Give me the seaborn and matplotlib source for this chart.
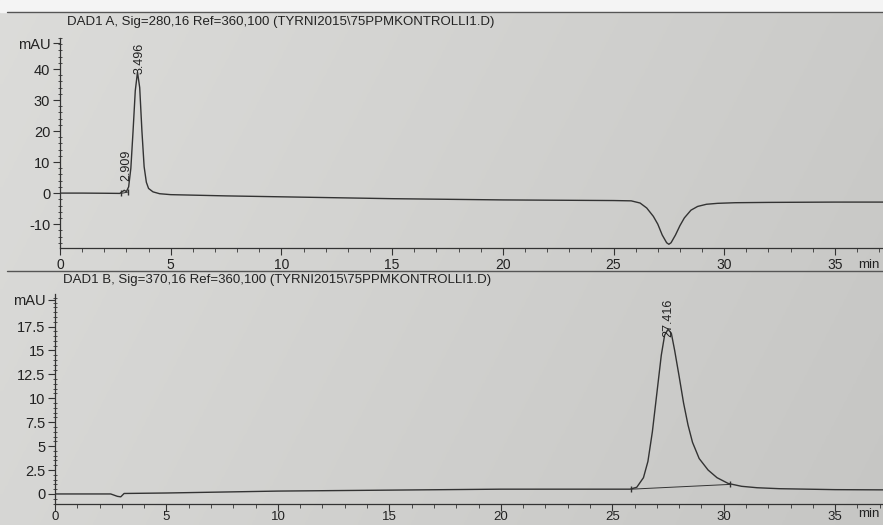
import numpy as np
import pandas as pd
import seaborn as sns
import matplotlib.pyplot as plt
from matplotlib.lines import Line2D
from matplotlib.patches import Rectangle
from matplotlib.ticker import MultipleLocator

# ---- data ----
title_a = "DAD1 A, Sig=280,16 Ref=360,100 (TYRNI2015\\75PPMKONTROLLI1.D)"
title_b = "DAD1 B, Sig=370,16 Ref=360,100 (TYRNI2015\\75PPMKONTROLLI1.D)"

time_a = [0.0, 1.0, 2.0, 2.7, 2.8, 2.9, 3.0, 3.1, 3.2, 3.3, 3.4, 3.5, 3.6, 3.7,
          3.8, 3.9, 4.0, 4.2, 4.5, 5.0, 7.5, 10.0, 12.5, 15.0, 17.5, 20.0,
          22.5, 25.0, 25.8, 26.2, 26.5, 26.8, 27.0, 27.2, 27.4, 27.5, 27.6,
          27.8, 28.0, 28.2, 28.5, 28.8, 29.2, 29.7, 30.5, 32.0, 35.0, 40.0]
signal_a = [0.0, 0.0, -0.05, -0.1, 0.4, 0.9, 0.5, 2.0, 8.0, 20.0, 33.0, 39.0,
            34.0, 20.0, 8.5, 3.5, 1.5, 0.4, -0.2, -0.5, -0.9, -1.2, -1.5, -1.8,
            -2.0, -2.2, -2.3, -2.4, -2.5, -3.2, -4.8, -7.5, -10.0, -13.5, -16.0,
            -16.5, -16.0, -13.5, -10.5, -8.0, -5.5, -4.3, -3.6, -3.3, -3.1,
            -3.0, -2.9, -2.9]

time_b = [0.0, 2.5, 2.8, 2.95, 3.1, 5.0, 7.5, 10.0, 12.5, 15.0, 17.5, 20.0,
          22.5, 25.0, 25.8, 26.1, 26.4, 26.6, 26.8, 27.0, 27.2, 27.35, 27.5,
          27.65, 27.8, 28.0, 28.2, 28.4, 28.6, 28.9, 29.3, 29.7, 30.2, 30.8,
          31.5, 32.5, 35.0, 40.0]
signal_b = [0.0, 0.0, -0.25, -0.3, 0.05, 0.1, 0.2, 0.3, 0.35, 0.4, 0.45, 0.5,
            0.5, 0.5, 0.5, 0.7, 1.7, 3.4, 6.5, 10.5, 14.5, 16.6, 17.2, 16.8,
            15.0, 12.3, 9.5, 7.2, 5.4, 3.7, 2.5, 1.7, 1.1, 0.8, 0.65, 0.55,
            0.45, 0.4]

# integration baselines drawn under the peaks
base_time_b = [25.85, 30.3]
base_signal_b = [0.5, 1.0]
base_time_a = [2.75, 3.05]
base_signal_a = [-0.1, 0.3]

peaks_a = ["2.909", "3.496"]
peak_times_a = [2.909, 3.496]
peaks_b = ["27.416"]
peak_times_b = [27.416]

yticks_a = [-10, 0, 10, 20, 30, 40]
yticks_b = [0, 2.5, 5, 7.5, 10, 12.5, 15, 17.5]
xticks = [0, 5, 10, 15, 20, 25, 30, 35]

df_a = pd.DataFrame({"time": time_a, "signal": signal_a})
df_b = pd.DataFrame({"time": time_b, "signal": signal_b})

# ---- style ----
sns.set_theme(style="ticks")
plt.rcParams['font.family'] = ['Liberation Sans', 'DejaVu Sans']
ink = '#333333'
txt = '#222222'
W, H = 883, 525

fig = plt.figure(figsize=(W / 100, H / 100), dpi=100)

# paper background, slightly darker towards the right like the photo
bg = fig.add_axes([0, 0, 1, 1], zorder=-5)
xx, yy = np.meshgrid(np.linspace(0, 1, 200), np.linspace(0, 1, 200))
shade = 0.862 - 0.065 * xx - 0.02 * (1 - yy)
bg.imshow(np.dstack([shade, shade, shade * 0.99]), extent=[0, 1, 0, 1],
          aspect='auto', origin='lower')
bg.set_axis_off()
fig.patches.append(Rectangle((0, 1 - 12 / H), 1, 12 / H, transform=fig.transFigure,
                             color='#f4f4f4', zorder=-4))


def setup_axis(ax, ylim, yticks, mau_y, minor_y, xpad, xsize):
    ax.set_facecolor('none')
    ax.set_xlim(0, 40)
    ax.set_ylim(*ylim)
    ax.set_xticks(xticks, labels=[str(v) for v in xticks])
    ax.set_yticks(yticks + [mau_y], labels=[f"{v:g}" for v in yticks] + ["mAU"])
    ax.xaxis.set_minor_locator(MultipleLocator(1))
    ax.yaxis.set_minor_locator(MultipleLocator(minor_y))
    for s in ['top', 'right']:
        ax.spines[s].set_visible(False)
    for s in ['left', 'bottom']:
        ax.spines[s].set_color(ink)
        ax.spines[s].set_linewidth(0.9)
    ax.tick_params(axis='both', which='major', colors=ink,
                   labelcolor=txt, length=5, width=0.8)
    ax.tick_params(axis='y', which='major', labelsize=10.5, pad=2)
    ax.tick_params(axis='x', which='major', labelsize=xsize, pad=xpad)
    ax.tick_params(axis='y', which='minor', direction='inout', length=3,
                   width=0.6, colors=ink)
    ax.tick_params(axis='x', which='minor', length=3, width=0.6, colors=ink)
    ax.set_xlabel('')
    ax.set_ylabel('')


# ---- panel A ----
ax_a = fig.add_axes([60 / W, 1 - 248 / H, 40 * 22.14 / W, 210 / H])
sns.lineplot(data=df_a, x="time", y="signal", ax=ax_a, color=ink, linewidth=1,
             estimator=None, sort=False)
ax_a.plot(base_time_a, base_signal_a, color=ink, linewidth=0.7, marker='|',
          markersize=4)
setup_axis(ax_a, (-17.7, 50), yticks_a, 48.3, 2, 2, 10)
for lab, t, dy in zip(peaks_a, peak_times_a, [3.0, -0.5]):
    y = np.interp(t, time_a, signal_a)
    ax_a.text(t + 0.08, y + dy, lab, rotation=90, ha='center', va='bottom',
              fontsize=9, color=txt, clip_on=False)

# ---- panel B ----
ax_b = fig.add_axes([55 / W, 1 - 504 / H, 40 * 22.29 / W, 210 / H])
sns.lineplot(data=df_b, x="time", y="signal", ax=ax_b, color=ink, linewidth=1,
             estimator=None, sort=False)
ax_b.plot(base_time_b, base_signal_b, color=ink, linewidth=0.7, marker='|',
          markersize=4)
setup_axis(ax_b, (-1.05, 20.9), yticks_b, 20.3, 0.5, 0, 9.5)
for lab, t in zip(peaks_b, peak_times_b):
    ax_b.text(t + 0.1, 16.4, lab, rotation=90, ha='center', va='bottom',
              fontsize=9, color=txt, clip_on=False)

# axis unit at the right end of each time axis
fig.text(858 / W, 1 - 265 / H, "min", fontsize=9.5, color=txt, va='center')
fig.text(858 / W, 1 - 514 / H, "min", fontsize=9.5, color=txt, va='center')

# page frame lines and signal headers
for y in [12, 271]:
    fig.add_artist(Line2D([7 / W, 1], [1 - y / H, 1 - y / H], color='#555555',
                          linewidth=1))
fig.text(67 / W, 1 - 22 / H, title_a, fontsize=9.5, color=txt, va='center')
fig.text(63 / W, 1 - 280 / H, title_b, fontsize=9.5, color=txt, va='center')

plt.savefig('out.png', dpi=100)
plt.close()
